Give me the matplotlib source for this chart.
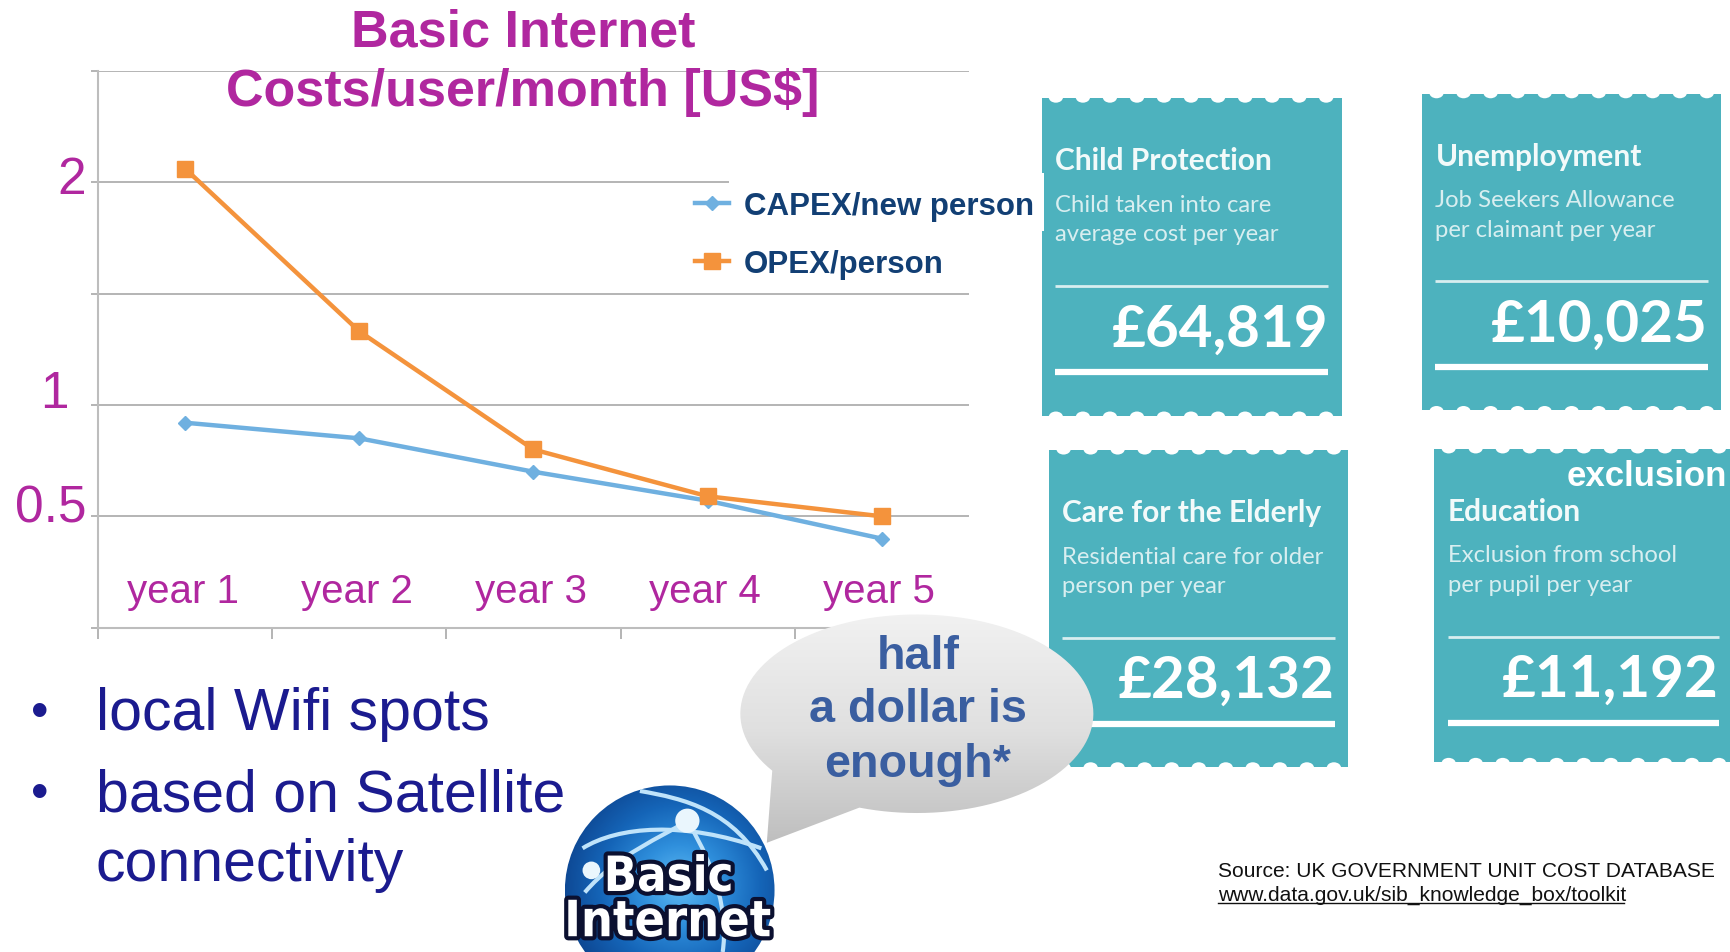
import numpy as np
import matplotlib
matplotlib.use("Agg")
import matplotlib.pyplot as plt
import matplotlib.patheffects as pe
from matplotlib.patches import Circle, Ellipse, Polygon, Rectangle, PathPatch
from matplotlib.path import Path

# chart values
years = ["year 1", "year 2", "year 3", "year 4", "year 5"]
capex = [0.92, 0.85, 0.70, 0.57, 0.40]
opex = [2.06, 1.33, 0.80, 0.59, 0.50]
y_grid = [0, 0.5, 1, 1.5, 2, 2.5]
y_labels = ["0.5", "1", "2"]
y_label_vals = [0.5, 1, 2]

# cost cards
card_titles = ["Child Protection", "Unemployment", "Care for the Elderly", "Education"]
card_lines = [["Child taken into care", "average cost per year"],
              ["Job Seekers Allowance", "per claimant per year"],
              ["Residential care for older", "person per year"],
              ["Exclusion from school", "per pupil per year"]]
card_costs = ["£64,819", "£10,025", "£28,132", "£11,192"]

MAGENTA = "#B0279F"
TEAL = "#4DB2BE"
NAVY = "#1B1B8F"
W, H = 1568, 864   # layout is measured in the 1568 wide picture

fig = plt.figure(figsize=(17.30, 9.53), dpi=100, facecolor="white")

# the chart
ax = fig.add_axes([89/W, 1-570/H, (878-89)/W, (570-65)/H])
ax.set_xlim(-0.5, 4.5)
ax.set_ylim(0, 2.5)
ax.set_yticks(y_grid)
ax.set_yticklabels([])
ax.set_xticks(np.arange(-0.5, 5, 1))
ax.set_xticklabels([])
ax.tick_params(axis="x", length=8, width=1.2, color="#A8A8A8")
ax.tick_params(axis="y", length=5, width=1.2, color="#A8A8A8")
ax.grid(axis="y", color="#A8A8A8", lw=1.2)
ax.set_axisbelow(True)
for s in ["top", "right"]:
    ax.spines[s].set_visible(False)
ax.spines["left"].set_color("#BDBDBD")
ax.spines["left"].set_linewidth(1.5)
ax.spines["bottom"].set_color("#BDBDBD")
ax.spines["bottom"].set_linewidth(1.5)

l1, = ax.plot(years, capex, color="#6FB0E0", lw=3.2, marker="D", ms=7, mec="#6FB0E0")
l2, = ax.plot(years, opex, color="#F4933C", lw=3.2, marker="s", ms=11, mec="#F4933C")
ax.set_xlim(-0.5, 4.5)

for i, name in enumerate(years):
    ax.text(i - 0.015, 0.165, name, color=MAGENTA, fontsize=29, ha="center", va="center",
            family="Liberation Sans")
y_offs = [(-12, 8), (-30, 11), (-12, 3)]
for lab, v, off in zip(y_labels, y_label_vals, y_offs):
    ax.annotate(lab, (0, v), xycoords=("axes fraction", "data"), xytext=off,
                textcoords="offset pixels", color=MAGENTA, fontsize=37, ha="right", va="center",
                family="Liberation Sans")

# everything else sits on an overlay in picture coordinates
ov = fig.add_axes([0, 0, 1, 1], facecolor="none")
ov.set_axis_off()


def reset_view():
    ov.set_xlim(0, W)
    ov.set_ylim(H, 0)
    ov.set_aspect("auto")


reset_view()

ov.text(474, 30, "Basic Internet", color=MAGENTA, fontsize=37.5, fontweight="bold",
        ha="center", va="center", family="Liberation Sans")
ov.text(474, 84, "Costs/user/month [US$]", color=MAGENTA, fontsize=37.5, fontweight="bold",
        ha="center", va="center", family="Liberation Sans")

ov.add_patch(Rectangle((661, 158), 285, 52, fc="white", ec="none", zorder=2))
leg = ov.legend([l1, l2], ["CAPEX/new person", "OPEX/person"], loc="upper left",
                bbox_to_anchor=(630, 174), bbox_transform=ov.transData, frameon=False,
                prop={"family": "Liberation Sans", "weight": "bold", "size": 22.5},
                labelcolor="#123F74", handlelength=1.1, handletextpad=0.45,
                labelspacing=0.9, borderpad=0, borderaxespad=0)
leg.set_zorder(3)

# cards
card_boxes = [(944, 90, 272, 288), (1289, 86, 271, 287), (951, 409, 271, 287), (1300, 408, 280, 284)]
for (x, y, w, h), title, lines, cost in zip(card_boxes, card_titles, card_lines, card_costs):
    ov.add_patch(Rectangle((x, y), w, h, fc=TEAL, ec="none", zorder=1))
    for nx in np.arange(x + 13, x + w - 5, 24.5):
        ov.add_patch(Ellipse((nx, y - 1), 13, 10, fc="white", ec="none", zorder=1.1))
        ov.add_patch(Ellipse((nx, y + h + 1), 13, 10, fc="white", ec="none", zorder=1.1))
    tx = x + 12
    rx = min(x + w - 12, 1558)
    ov.text(tx, y + 56, title, color="#F2FAFA", fontsize=21.5, fontweight="bold", family="Lato",
            va="center", zorder=1.5)
    ov.text(tx, y + 96, lines[0], color="#D8EEF0", fontsize=17.2, family="Lato", va="center", zorder=1.5)
    ov.text(tx, y + 123, lines[1], color="#D8EEF0", fontsize=17.2, family="Lato", va="center", zorder=1.5)
    ov.plot([tx, rx], [y + 170, y + 170], color="#D8EEF0", lw=2, solid_capstyle="butt", zorder=1.5)
    ov.text(rx, y + 209, cost, color="white", fontsize=42, fontweight="bold", family="Lato",
            ha="right", va="center", zorder=1.5)
    ov.plot([tx, rx], [y + 248, y + 248], color="white", lw=4.5, solid_capstyle="butt", zorder=1.5)

ov.text(1565, 432, "exclusion", color="white", fontsize=25, fontweight="bold", ha="right", va="center",
        family="Liberation Sans", zorder=1.6)

# bullets
for bx, by, txt in [(87, 648, "local Wifi spots"), (87, 722, "based on Satellite"), (87, 785, "connectivity")]:
    ov.text(bx, by, txt, color=NAVY, fontsize=42.5, ha="left", va="center", family="Liberation Sans")
ov.text(36, 647, "•", color=NAVY, fontsize=36, ha="center", va="center", family="Liberation Sans")
ov.text(36, 721, "•", color=NAVY, fontsize=36, ha="center", va="center", family="Liberation Sans")

# speech bubble
t = np.radians(np.linspace(251, 251 + 324, 120))
ex = 831 + 160 * np.cos(t)
ey = 648 - 90 * np.sin(t)
verts = list(zip(ex, ey)) + [(695, 765)]
bubble = Polygon(verts, closed=True, fc="none", ec="none", transform=ov.transData)
ov.add_patch(bubble)
grad = np.linspace(0, 1, 256).reshape(-1, 1)
grad_cmap = matplotlib.colors.LinearSegmentedColormap.from_list("bub", ["#F2F2F2", "#E0E0E0", "#BDBDBD"])
im = ov.imshow(grad, extent=(660, 1000, 770, 555), cmap=grad_cmap, aspect="auto", zorder=4)
im.set_clip_path(bubble)
reset_view()
for yy, txt in [(596, "half"), (644, "a dollar is"), (694, "enough*")]:
    ov.text(832, yy, txt, color="#3A5EA0", fontsize=33.7, fontweight="bold", ha="center", va="center",
            family="Liberation Sans", zorder=5)

# logo globe
gx, gy, gr = 607, 808, 95
globe = Circle((gx, gy), gr, fc="none", ec="none", transform=ov.transData)
ov.add_patch(globe)
xx, yy = np.meshgrid(np.linspace(-1, 1, 200), np.linspace(-1, 1, 200))
rr = np.sqrt((xx - 0.1) ** 2 + (yy + 0.05) ** 2)
blue_cmap = matplotlib.colors.LinearSegmentedColormap.from_list("glb", ["#62BDF5", "#2F8FDC", "#1565B8", "#0D4590"])
im2 = ov.imshow(rr, extent=(gx - gr, gx + gr, gy + gr, gy - gr), cmap=blue_cmap, vmin=0, vmax=1.15,
                aspect="auto", zorder=4)
im2.set_clip_path(globe)
reset_view()
arcs = [[(528, 770), (560, 750), (620, 745), (690, 770)],
        [(623, 745), (600, 760), (560, 775), (530, 810)],
        [(623, 745), (650, 790), (660, 830), (655, 864)],
        [(580, 718), (620, 725), (665, 735), (695, 790)]]
for a in arcs:
    ov.add_patch(PathPatch(Path(a, [Path.MOVETO, Path.CURVE4, Path.CURVE4, Path.CURVE4]), fc="none",
                           ec="#BFE3FA", lw=3, zorder=4.2, clip_on=True))
ov.add_patch(Circle((623, 745), 11, fc="#EAF6FD", ec="none", zorder=4.3))
ov.add_patch(Circle((536, 790), 8, fc="#EAF6FD", ec="none", zorder=4.3))
stroke = [pe.withStroke(linewidth=6, foreground="#0B1030")]
ov.text(606, 796, "Basic", color="white", fontsize=35, fontweight="bold", family="DejaVu Sans",
        stretch="condensed", ha="center", va="center", zorder=5, path_effects=stroke)
ov.text(605, 837, "Internet", color="white", fontsize=36, fontweight="bold", family="DejaVu Sans",
        stretch="condensed", ha="center", va="center", zorder=5, path_effects=stroke)

# source
ov.text(1104, 790, "Source: UK GOVERNMENT UNIT COST DATABASE", color="#111111", fontsize=15.1,
        family="Liberation Sans", va="center")
ov.text(1104, 812, "www.data.gov.uk/sib_knowledge_box/toolkit", color="#111111", fontsize=15.1,
        family="Liberation Sans", va="center")
ov.plot([1104, 1472], [820, 820], color="#111111", lw=1)

fig.savefig("out.png", dpi=100)
plt.close()
